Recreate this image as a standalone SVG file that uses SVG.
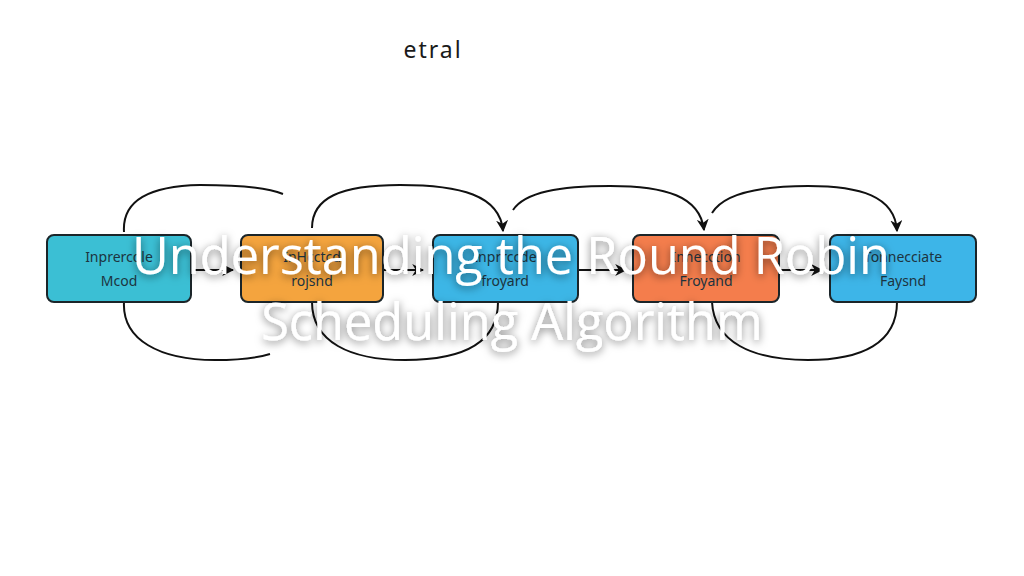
<svg xmlns="http://www.w3.org/2000/svg" width="1024" height="576" viewBox="0 0 1024 576">
  <defs>
    <marker id="ah2" viewBox="0 0 10 10" refX="9" refY="5" markerWidth="12" markerHeight="12" markerUnits="userSpaceOnUse" orient="auto">
      <path d="M0,0 L10,5 L0,10 L3,5 z" fill="#111"/>
    </marker>
    <filter id="sh" x="-10%" y="-30%" width="120%" height="160%">
      <feDropShadow dx="0" dy="2" stdDeviation="4" flood-color="#000" flood-opacity="0.55"/>
    </filter>
  </defs>
  <style>
    .box { stroke: #1b2529; stroke-width: 2; }
    .lbl { font-family: "Noto Sans", "DejaVu Sans", sans-serif; font-size: 14px; fill: #1d3440; text-anchor: middle; }
    .arc { fill: none; stroke: #111; stroke-width: 2; }
    .title { font-family: "Open Sans", "Noto Sans", sans-serif; font-size: 50.5px; fill: #ffffff; text-anchor: middle; }
  </style>
  <rect width="1024" height="576" fill="#ffffff"/>
  <text x="433" y="58" font-family="Noto Sans, DejaVu Sans, sans-serif" font-size="23" letter-spacing="2" fill="#1a1a1a" text-anchor="middle">etral</text>

  <g id="connectors">
    <path class="arc" d="M191,270 L233,270" marker-end="url(#ah2)"/>
    <path class="arc" d="M383,270 L423,270" marker-end="url(#ah2)"/>
    <path class="arc" d="M578,270 L626,270" marker-end="url(#ah2)"/>
    <path class="arc" d="M779,270 L822,270" marker-end="url(#ah2)"/>
    <path class="arc" d="M124,232 C122,200 150,186 200,185 C240,185 268,188 283,194"/>
    <path class="arc" d="M312,228 C312,198 340,185 400,185 C460,185 500,195 503,231" marker-end="url(#ah2)"/>
    <path class="arc" d="M513,210 C525,192 560,186 610,186 C665,186 700,196 704,230" marker-end="url(#ah2)"/>
    <path class="arc" d="M712,213 C724,193 760,186 808,186 C860,186 895,196 897,231" marker-end="url(#ah2)"/>
    <path class="arc" d="M124,302 C122,340 160,360 215,360 C245,360 260,357 270,354"/>
    <path class="arc" d="M312,302 C312,342 350,360 405,360 C460,360 498,345 498,302"/>
    <path class="arc" d="M712,302 C714,342 752,360 808,360 C862,360 897,343 897,302"/>
  </g>

  <g id="node1">
    <rect class="box" x="47" y="235" width="144" height="67" rx="7" fill="#3bbfd4"/>
    <text class="lbl" x="119" y="262">Inprercdle</text>
    <text class="lbl" x="119" y="286">Mcod</text>
  </g>
  <g id="node2">
    <rect class="box" x="241" y="235" width="142" height="67" rx="7" fill="#f4a43e"/>
    <text class="lbl" x="312" y="262">InHcctcd</text>
    <text class="lbl" x="312" y="286">rojsnd</text>
  </g>
  <g id="node3">
    <rect class="box" x="433" y="235" width="145" height="67" rx="7" fill="#3cb6e6"/>
    <text class="lbl" x="505" y="262">Inprrccde</text>
    <text class="lbl" x="505" y="286">froyard</text>
  </g>
  <g id="node4">
    <rect class="box" x="633" y="235" width="146" height="67" rx="7" fill="#f47d4c"/>
    <text class="lbl" x="706" y="262">Innecction</text>
    <text class="lbl" x="706" y="286">Froyand</text>
  </g>
  <g id="node5">
    <rect class="box" x="830" y="235" width="146" height="67" rx="7" fill="#3db5e8"/>
    <text class="lbl" x="903" y="262">Tonnecciate</text>
    <text class="lbl" x="903" y="286">Faysnd</text>
  </g>

  <g id="title" filter="url(#sh)">
    <text class="title" x="511" y="274">Understanding the Round Robin</text>
    <text class="title" x="512" y="340">Scheduling Algorithm</text>
  </g>
</svg>
